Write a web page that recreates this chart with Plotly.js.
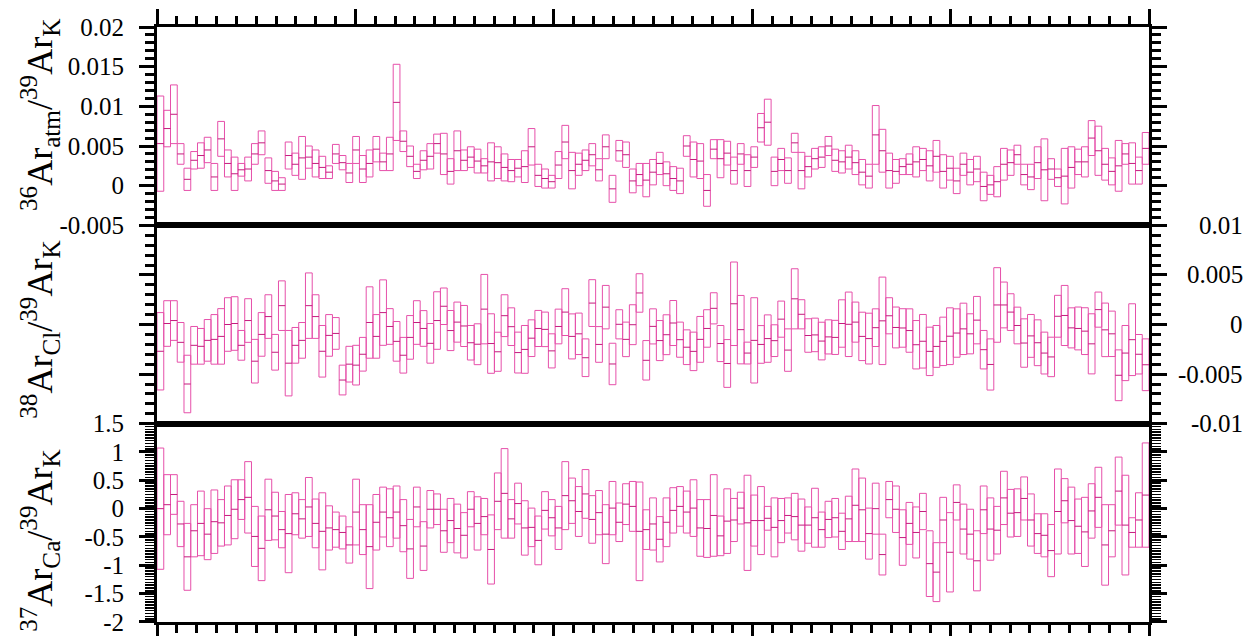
<!DOCTYPE html>
<html><head><meta charset="utf-8">
<script src="https://cdn.plot.ly/plotly-3.0.1.min.js"></script>
<style>html,body{margin:0;padding:0;background:#fff}</style>
</head><body><div id="chart" style="width:1257px;height:636px"></div>
<script>
// 36Ar_atm/39Ar_K (top panel)
const ar36Val = [
0.0053,0.0072,0.0090,0.0040,0.0008,0.0032,0.0038,0.0045,0.0011,0.0059,
0.0028,0.0015,0.0020,0.0021,0.0040,0.0054,0.0019,0.0006,0.0002,0.0038,
0.0027,0.0035,0.0036,0.0028,0.0023,0.0017,0.0040,0.0029,0.0016,0.0045,
0.0021,0.0028,0.0046,0.0030,0.0040,0.0105,0.0056,0.0037,0.0018,0.0032,
0.0037,0.0053,
0.0040,0.0018,0.0044,0.0032,0.0036,0.0031,0.0025,0.0030,0.0029,0.0023,
0.0019,0.0022,0.0024,0.0049,0.0013,0.0009,0.0005,0.0026,0.0055,0.0019,
0.0027,0.0032,0.0039,0.0020,0.0049,-0.0004,0.0044,0.0039,0.0006,0.0014,
0.0007,0.0017,0.0028,0.0015,0.0009,0.0006,0.0050,0.0033,0.0031,-0.0006,
0.0046,0.0034,0.0041,0.0019,0.0040,0.0019,0.0036,0.0073,0.0080,0.0018,
0.0033,0.0019,0.0054,
0.0019,0.0024,0.0034,0.0036,0.0050,0.0032,0.0030,0.0036,0.0029,0.0017,
0.0012,0.0064,0.0044,0.0019,0.0018,0.0024,0.0027,0.0030,0.0033,0.0025,
0.0037,0.0018,0.0022,0.0006,0.0027,0.0017,0.0021,-0.0001,0.0001,0.0005,
0.0027,0.0029,0.0039,0.0014,0.0011,0.0029,0.0020,0.0021,0.0010,0.0012,
0.0023,0.0030,0.0030,0.0060,0.0044,0.0027,0.0018,0.0025,0.0040,0.0028,
0.0019,0.0047];
const ar36Err = [
0.0060,0.0023,0.0037,0.0013,0.0014,0.0011,0.0016,0.0016,0.0017,0.0022,
0.0017,0.0021,0.0008,0.0015,0.0013,0.0015,0.0016,0.0012,0.0008,0.0017,
0.0014,0.0027,0.0014,0.0017,0.0014,0.0008,0.0012,0.0009,0.0012,0.0017,
0.0017,0.0017,0.0016,0.0011,0.0021,0.0048,0.0013,0.0013,0.0009,0.0012,
0.0016,0.0012,
0.0026,0.0016,0.0025,0.0013,0.0013,0.0015,0.0009,0.0024,0.0020,0.0017,
0.0014,0.0011,0.0020,0.0023,0.0014,0.0012,0.0008,0.0017,0.0021,0.0023,
0.0014,0.0013,0.0014,0.0014,0.0015,0.0017,0.0013,0.0016,0.0015,0.0014,
0.0021,0.0016,0.0014,0.0015,0.0015,0.0016,0.0013,0.0022,0.0022,0.0020,
0.0012,0.0024,0.0015,0.0017,0.0013,0.0020,0.0013,0.0018,0.0029,0.0018,
0.0014,0.0016,0.0012,
0.0023,0.0013,0.0013,0.0013,0.0012,0.0014,0.0014,0.0015,0.0015,0.0016,
0.0015,0.0037,0.0027,0.0022,0.0015,0.0010,0.0013,0.0019,0.0014,0.0019,
0.0020,0.0021,0.0015,0.0016,0.0014,0.0016,0.0016,0.0018,0.0012,0.0019,
0.0020,0.0016,0.0012,0.0013,0.0016,0.0020,0.0039,0.0013,0.0011,0.0035,
0.0026,0.0016,0.0019,0.0022,0.0031,0.0020,0.0017,0.0032,0.0013,0.0026,
0.0017,0.0020];

// 38Ar_Cl/39Ar_K (middle panel)
const ar38Val = [
-0.0027,0.0001,0.0004,-0.0018,-0.0060,-0.0021,-0.0022,-0.0016,-0.0015,-0.0012,
0.0000,0.0001,-0.0021,0.0004,-0.0037,-0.0010,0.0008,-0.0028,0.0019,-0.0039,
-0.0021,-0.0016,0.0019,0.0008,-0.0027,-0.0011,-0.0009,-0.0056,-0.0040,-0.0041,
-0.0030,0.0002,-0.0012,0.0012,-0.0002,-0.0017,-0.0031,-0.0013,0.0002,-0.0004,
-0.0019,0.0004,
0.00184,-0.00061,0.00024,-0.00015,-0.00184,-0.00199,0.00155,-0.00192,-0.00275,0.00089,
-0.00022,-0.00283,-0.00251,-0.00138,-0.00040,-0.00049,-0.00266,-0.00020,0.00125,-0.00120,
-0.00094,-0.00335,0.00216,-0.00201,0.00175,-0.00398,0.00002,-0.00150,-0.00002,0.00318,
-0.00361,-0.00019,-0.00162,-0.00103,0.00015,-0.00153,-0.00229,-0.00271,-0.00150,-0.00040,
0.00163,-0.00192,-0.00393,0.00209,-0.00052,-0.00288,-0.00160,-0.00201,-0.00142,-0.00163,
0.00054,-0.00258,0.00259,
0.00103,-0.00111,-0.00105,-0.00167,-0.00125,-0.00130,0.00010,0.00002,0.00024,-0.00120,
-0.00142,-0.00032,0.00037,0.00088,-0.00030,-0.00035,-0.00061,-0.00204,-0.00169,-0.00271,
-0.00221,-0.00170,-0.00118,-0.00086,-0.00044,-0.00094,0.00044,-0.00254,-0.00403,0.00197,
0.00197,0.00125,-0.00010,-0.00187,-0.00115,-0.00184,-0.00288,-0.00327,0.00083,0.00091,
-0.00034,-0.00040,-0.00067,-0.00195,0.00150,-0.00054,-0.00094,-0.00512,-0.00288,-0.00153,
-0.00300,-0.00406];
const ar38Err = [
0.0039,0.0023,0.0020,0.0020,0.0029,0.0019,0.0018,0.0021,0.0025,0.0028,
0.0027,0.0027,0.0015,0.0022,0.0022,0.0022,0.0022,0.0018,0.0025,0.0033,
0.0018,0.0018,0.0033,0.0022,0.0026,0.0021,0.0016,0.0015,0.0018,0.0020,
0.0017,0.0036,0.0022,0.0033,0.0018,0.0020,0.0018,0.0022,0.0022,0.0018,
0.0020,0.0029,
0.00184,0.00202,0.00202,0.00207,0.00174,0.00206,0.00350,0.00300,0.00197,0.00211,
0.00190,0.00206,0.00241,0.00185,0.00182,0.00174,0.00172,0.00175,0.00236,0.00227,
0.00209,0.00190,0.00236,0.00180,0.00219,0.00209,0.00147,0.00174,0.00201,0.00194,
0.00199,0.00177,0.00202,0.00201,0.00227,0.00177,0.00175,0.00194,0.00231,0.00189,
0.00157,0.00182,0.00241,0.00421,0.00345,0.00110,0.00430,0.00190,0.00239,0.00160,
0.00182,0.00214,0.00303,
0.00147,0.00169,0.00169,0.00190,0.00172,0.00172,0.00239,0.00325,0.00202,0.00244,
0.00256,0.00190,0.00441,0.00182,0.00206,0.00194,0.00219,0.00244,0.00270,0.00244,
0.00211,0.00244,0.00286,0.00244,0.00259,0.00202,0.00239,0.00194,0.00258,0.00376,
0.00231,0.00185,0.00185,0.00244,0.00216,0.00231,0.00211,0.00199,0.00211,0.00303,
0.00202,0.00216,0.00236,0.00303,0.00177,0.00270,0.00229,0.00256,0.00278,0.00362,
0.00199,0.00261];

// 37Ar_Ca/39Ar_K (bottom panel)
const ar37Val = [
0.00,0.07,0.25,-0.27,-0.85,-0.39,-0.26,-0.45,-0.23,-0.25,
-0.12,-0.01,0.16,0.20,-0.49,-0.70,-0.02,-0.13,-0.37,-0.44,
-0.09,-0.18,0.03,-0.26,-0.40,-0.34,-0.37,-0.42,-0.64,-0.06,
-0.37,-0.67,-0.24,-0.06,-0.16,-0.06,-0.30,
-0.71,0.03,-0.66,-0.01,-0.01,-0.39,-0.21,-0.35,-0.47,-0.01,
-0.26,-0.14,-0.72,0.13,0.27,-0.18,0.09,-0.34,-0.33,-0.56,
-0.03,-0.16,-0.34,0.23,0.14,-0.05,0.26,-0.19,-0.07,-0.45,
0.01,-0.24,0.08,0.04,-0.40,-0.37,-0.27,-0.54,-0.24,-0.03,
0.04,-0.06,0.01,-0.34,-0.35,-0.12,-0.48,-0.22,-0.20,0.01,
-0.25,-0.21,-0.21,-0.17,-0.33,-0.21,-0.12,-0.14,
-0.29,-0.29,-0.16,-0.37,-0.19,-0.16,-0.40,-0.18,0.06,-0.02,
-0.44,0.00,-0.81,0.16,-0.01,-0.51,-0.26,-0.42,-0.05,-0.97,
-1.12,-0.20,-0.77,0.11,-0.36,-0.45,-0.92,-0.02,-0.36,-0.38,
0.19,-0.08,-0.07,0.18,-0.20,-0.44,-0.47,-0.74,-0.05,0.14,
-0.21,-0.31,-0.41,-0.04,0.20,-0.64,-0.39,0.31,-0.29,-0.42,
-0.20,0.24];
const ar37Err = [
1.07,0.53,0.35,0.40,0.59,0.46,0.57,0.45,0.56,0.41,
0.52,0.52,0.35,0.63,0.53,0.57,0.54,0.42,0.32,0.69,
0.37,0.34,0.52,0.43,0.68,0.39,0.31,0.29,0.32,0.58,
0.44,0.74,0.49,0.44,0.51,0.46,0.46,
0.52,0.35,0.43,0.33,0.27,0.38,0.39,0.43,0.40,0.31,
0.47,0.32,0.61,0.50,0.79,0.34,0.36,0.48,0.34,0.43,
0.33,0.32,0.38,0.60,0.40,0.44,0.43,0.42,0.39,0.52,
0.47,0.34,0.36,0.44,0.87,0.35,0.46,0.40,0.43,0.40,
0.35,0.37,0.50,0.50,0.51,0.72,0.35,0.57,0.38,0.28,
0.84,0.45,0.60,0.21,0.52,0.39,0.31,0.41,
0.46,0.32,0.52,0.31,0.32,0.34,0.32,0.40,0.64,0.56,
0.45,0.45,0.36,0.32,0.41,0.49,0.37,0.45,0.32,0.58,
0.52,0.40,0.70,0.31,0.44,0.44,0.53,0.42,0.55,0.42,
0.47,0.42,0.42,0.38,0.46,0.35,0.38,0.46,0.75,0.39,
0.59,0.48,0.61,0.48,0.53,0.71,0.46,0.60,0.88,0.26,
0.48,0.92];

// tick values / labels
const xTicks = [0,20,40,60,80,100];
const ar36Ticks = [-0.005,0,0.005,0.01,0.015,0.02];
const ar36TickText = ['-0.005','0','0.005','0.01','0.015','0.02'];
const ar38Ticks = [-0.01,-0.005,0,0.005,0.01];
const ar38TickText = ['-0.01','-0.005','0','0.005','0.01'];
const ar37Ticks = [-2,-1.5,-1,-0.5,0,0.5,1,1.5];
const ar37TickText = ['-2','-1.5','-1','-0.5','0','0.5','1','1.5'];

const FONT = '"Liberation Serif","Times New Roman",serif';
const BOX = 'rgb(230,80,170)';
const MID = 'rgb(196,28,126)';
const X0 = 0, X1 = 100;

function boxTraces(vals, errs, xa, ya){
  const w = (X1 - X0) / vals.length;
  const bx=[], by=[], mx=[], my=[];
  vals.forEach((v,i)=>{
    const a = X0 + i*w, b = a + w, lo = v - errs[i], hi = v + errs[i];
    bx.push(a,b,b,a,a,null); by.push(lo,lo,hi,hi,lo,null);
    mx.push(a,b,null); my.push(v,v,null);
  });
  return [
    {type:'scatter',mode:'lines',x:bx,y:by,xaxis:xa,yaxis:ya,line:{color:BOX,width:1},hoverinfo:'skip',showlegend:false,connectgaps:false},
    {type:'scatter',mode:'lines',x:mx,y:my,xaxis:xa,yaxis:ya,line:{color:MID,width:1},hoverinfo:'skip',showlegend:false,connectgaps:false}
  ];
}

const data = [
  ...boxTraces(ar36Val, ar36Err, 'x3', 'y3'),
  ...boxTraces(ar38Val, ar38Err, 'x2', 'y2'),
  ...boxTraces(ar37Val, ar37Err, 'x', 'y')
];

const minorY = (d, w)=>({ticks:'outside',ticklen:9,tickwidth:w,tickcolor:'black',dtick:d,showgrid:false});
const yBase = {showline:true,linewidth:3,linecolor:'black',mirror:'ticks',ticks:'outside',ticklen:15,tickwidth:3,tickcolor:'black',
  showgrid:false,zeroline:false,tickmode:'array',tickfont:{family:FONT,size:25,color:'black'},ticklabelstandoff:10};
const xBase = {range:[X0,X1],showline:true,linewidth:3,linecolor:'black',mirror:true,showgrid:false,zeroline:false,
  showticklabels:false,tickmode:'array',tickvals:xTicks,ticklen:15,tickwidth:3,tickcolor:'black'};
const minorX = {ticks:'outside',dtick:2,ticklen:8,tickwidth:3,tickcolor:'black',showgrid:false};

const ylabels = [
  {text:'<sup>36</sup>Ar<sub>atm</sub>/<sup>39</sup>Ar<sub>K</sub>', y:0.852},
  {text:'<sup>38</sup>Ar<sub>Cl</sub>/<sup>39</sup>Ar<sub>K</sub>', y:0.491},
  {text:'<sup>37</sup>Ar<sub>Ca</sub>/<sup>39</sup>Ar<sub>K</sub>', y:0.138}
];
const annotations = ylabels.map(l=>({xref:'paper',yref:'paper',x:-0.118,y:l.y,text:l.text,textangle:-90,showarrow:false,
  xanchor:'center',yanchor:'middle',font:{family:FONT,size:36,color:'black'}}));
ar38Ticks.forEach((t,i)=>annotations.push({xref:'paper',yref:'y2',x:1.0968,y:t,text:ar38TickText[i],showarrow:false,
  xanchor:'right',yanchor:'middle',font:{family:FONT,size:25,color:'black'}}));

const layout = {
  width:1257,height:636,margin:{l:157,r:108,t:27,b:14},
  paper_bgcolor:'white',plot_bgcolor:'white',showlegend:false,
  xaxis:{...xBase,anchor:'y',domain:[0,1],side:'bottom',ticks:'outside',minor:minorX},
  xaxis2:{...xBase,anchor:'y2',domain:[0,1],ticks:''},
  xaxis3:{...xBase,anchor:'y3',domain:[0,1],side:'top',ticks:'outside',minor:minorX},
  yaxis:{...yBase,anchor:'x',domain:[0,1/3],range:[-2,1.5],tickvals:ar37Ticks,ticktext:ar37TickText,minor:minorY(0.05,1.5)},
  yaxis2:{...yBase,anchor:'x2',domain:[1/3,2/3],range:[-0.01,0.01],tickvals:ar38Ticks,ticktext:ar38TickText,showticklabels:false,minor:minorY(0.001,3)},
  yaxis3:{...yBase,anchor:'x3',domain:[2/3,1],range:[-0.005,0.02],tickvals:ar36Ticks,ticktext:ar36TickText,minor:minorY(0.001,3)},
  annotations:annotations
};

Plotly.newPlot('chart', data, layout, {displayModeBar:false, staticPlot:true});
</script>
</body></html>
